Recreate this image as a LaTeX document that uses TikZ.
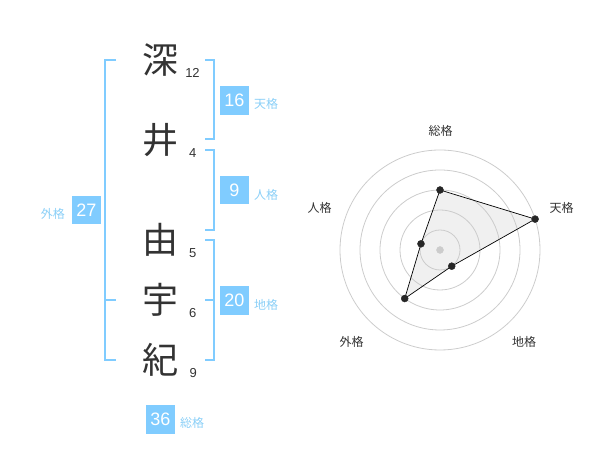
\documentclass[tikz,border=0pt]{standalone}
\usepackage{fontspec}
\setmainfont{Liberation Sans}
\newfontfamily\jpfont{Noto Sans CJK JP}
\definecolor{kakublue}{HTML}{80CCFF}
\definecolor{kakulabel}{HTML}{8ACFF7}
\definecolor{inkgray}{HTML}{333333}
\definecolor{ringgray}{HTML}{CCCCCC}
\definecolor{areagray}{HTML}{F0F0F0}
\tikzset{
  kanji/.style={font=\jpfont\fontsize{36}{36}\selectfont, text=inkgray, inner sep=0pt},
  strokes/.style={font=\fontsize{13}{13}\selectfont, text=inkgray, inner sep=0pt},
  kakubox/.style={fill=kakublue, text=white, minimum size=28.5pt, inner sep=0pt, font=\fontsize{18}{18}\selectfont},
  kakuname/.style={font=\jpfont\fontsize{12}{12}\selectfont, text=kakulabel, inner sep=0pt},
  bracket/.style={draw=kakublue, line width=2pt},
  ring/.style={draw=ringgray, line width=0.8pt},
  axisname/.style={font=\jpfont\fontsize{12}{12}\selectfont, text=inkgray, inner sep=0pt},
}
\begin{document}
\begin{tikzpicture}[x=1pt,y=1pt]
            \useasboundingbox (0,0) rectangle (600,470);
            % name
            \node[kanji] (fuka) at (160,410) {深};
            \node[kanji] (i) at (160,330) {井};
            \node[kanji] (yu) at (160,230) {由};
            \node[kanji] (u) at (160,170) {宇};
            \node[kanji] (ki) at (160,110) {紀};
            \node[strokes] (nfuka) at (192.5,397.3) {12};
            \node[strokes] (ni) at (192.7,317.3) {4};
            \node[strokes] (nyu) at (192.7,217.3) {5};
            \node[strokes] (nu) at (192.7,157.3) {6};
            \node[strokes] (nki) at (193.3,97.3) {9};
            % brackets
            \draw[bracket](205,410)--(214,410)--(214,331)--(205,331);
            \draw[bracket](205,320)--(214,320)--(214,240)--(205,240);
            \draw[bracket](205,230)--(214,230)--(214,110)--(205,110);
            \draw[bracket](205,170)--(214,170);
            \draw[bracket](116,410)--(105,410)--(105,110)--(116,110);
            \draw[bracket](105,170)--(116,170);
            % scores
            \node[kakubox] (ten) at (234.3,369.7) {16};
            \node[kakuname,anchor=west] (tenlabel) at (254,365.7) {天格};
            \node[kakubox] (jin) at (234.3,280) {9};
            \node[kakuname,anchor=west] (jinlabel) at (254,275.3) {人格};
            \node[kakubox] (chi) at (234.3,169.7) {20};
            \node[kakuname,anchor=west] (chilabel) at (254,165.3) {地格};
            \node[kakubox] (gai) at (86.5,260) {27};
            \node[kakuname,anchor=east] (gailabel) at (65,256) {外格};
            \node[kakubox] (so) at (160.3,50.7) {36};
            \node[kakuname,anchor=west] (solabel) at (180,47.3) {総格};
            % chart
            \begin{scope}[shift={(440,220)}]
            \coordinate (pso) at (90:60);
            \coordinate (pten) at (18:100);
            \coordinate (pchi) at (-54:20);
            \coordinate (pgai) at (234:60);
            \coordinate (pjin) at (162:20);
            \fill[areagray] (pso)--(pten)--(pchi)--(pgai)--(pjin)--cycle;
            \foreach \r in {20,40,60,80,100}
              \draw[ring] (0,0) circle[radius=\r];
            \filldraw[ringgray] (0,0) circle[radius=3.5];
            \draw[black,line width=0.7pt](pso)--(pten)--(pchi)--(pgai)--(pjin)--cycle;
            \foreach \p in {pso,pten,pchi,pgai,pjin}
              \filldraw[black!85] (\p) circle[radius=3.5];
            \node[axisname] (aso) at (0.5,119.3) {総格};
            \node[axisname] (aten) at (121.5,41.7) {天格};
            \node[axisname] (achi) at (84,-91.7) {地格};
            \node[axisname] (agai) at (-88.5,-91.7) {外格};
            \node[axisname] (ajin) at (-120.5,41.7) {人格};
            \end{scope}
            \end{tikzpicture}
\end{document}
